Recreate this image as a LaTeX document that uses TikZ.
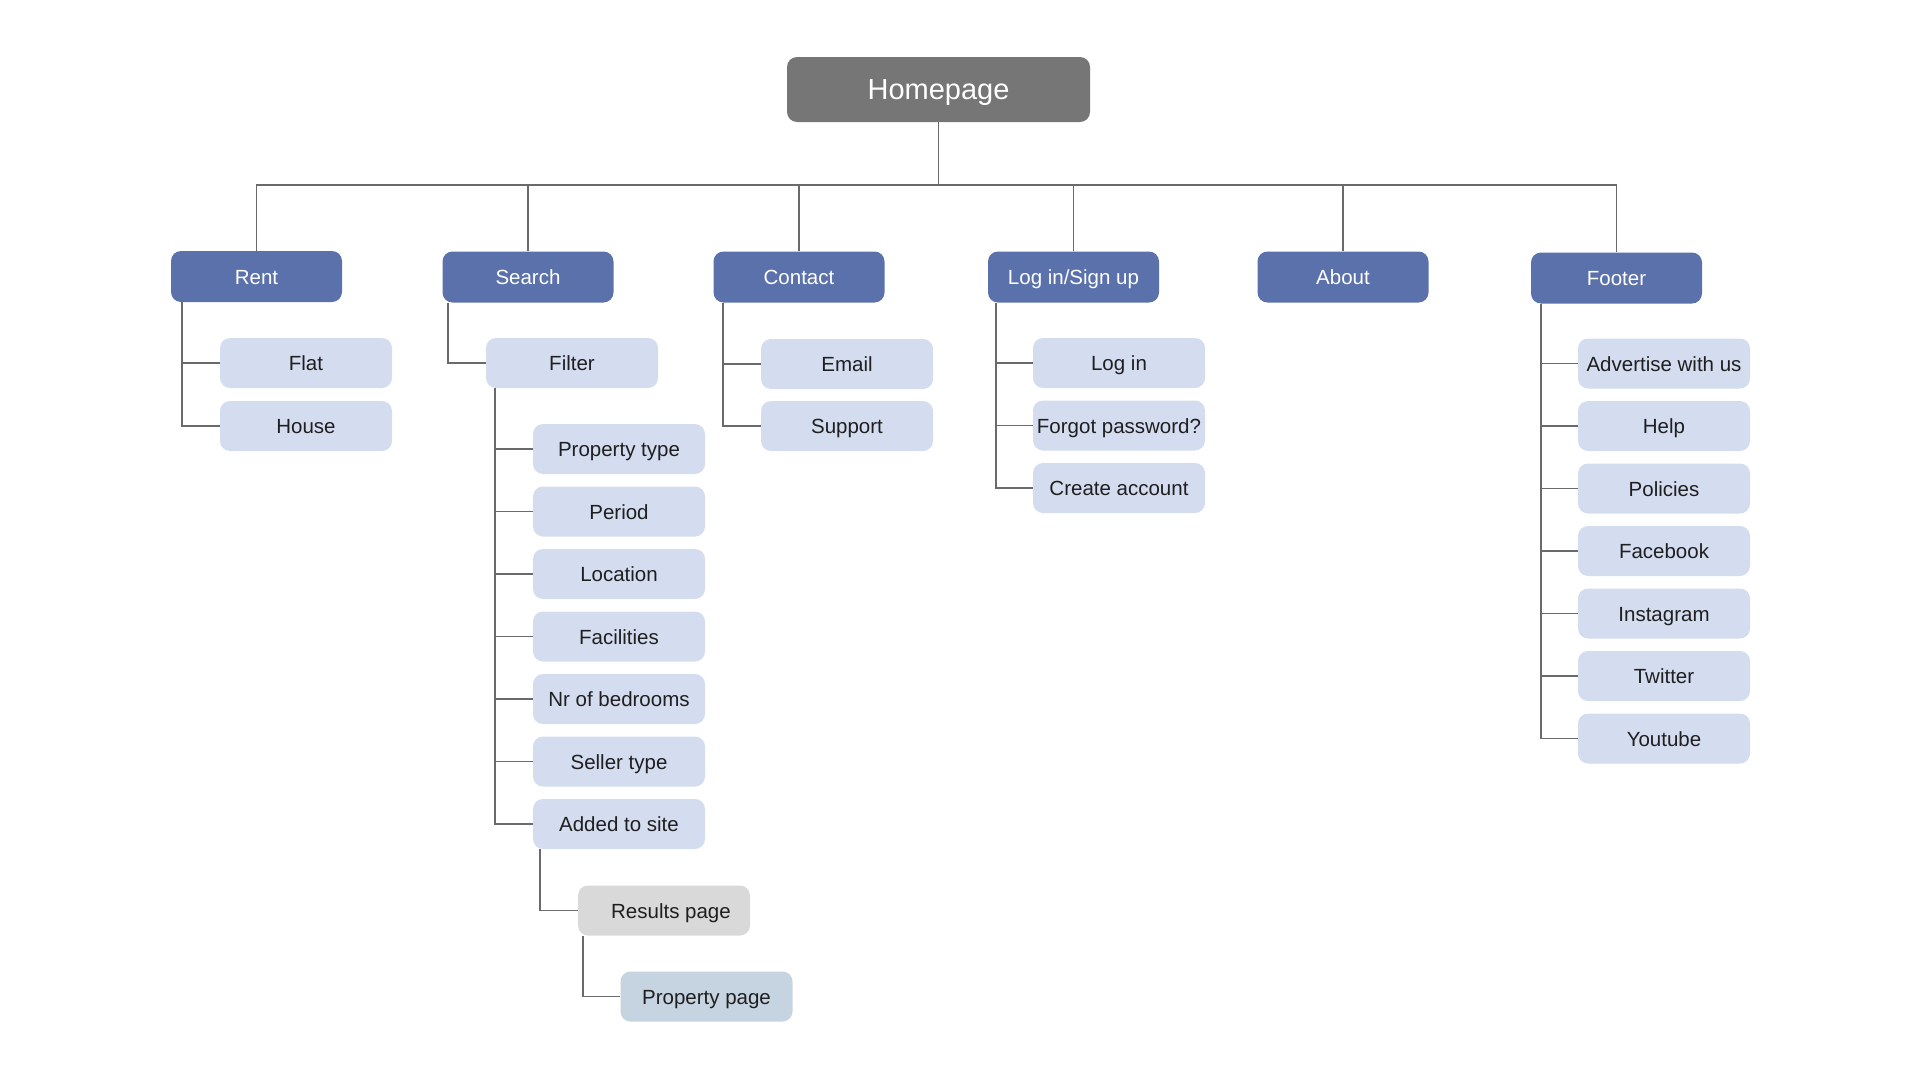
\documentclass[tikz,border=0pt]{standalone}
\usepackage{fontspec}
\setmainfont{Liberation Sans}
\definecolor{homegray}{HTML}{767676}
\definecolor{secblue}{HTML}{5B71AB}
\definecolor{itemblue}{HTML}{D4DCF0}
\definecolor{resultgray}{HTML}{D9D9D9}
\definecolor{propblue}{HTML}{C6D3E0}
\definecolor{linegray}{HTML}{6A6A6A}

\begin{document}
\begin{tikzpicture}[x=1pt, y=-1pt,
  box/.style={rounded corners=10pt, inner sep=1pt, minimum width=172pt, minimum height=50pt, text height=20pt, text depth=4.5pt, font=\fontsize{20.5}{24}\selectfont},
  homebox/.style={box, fill=homegray, text=white, minimum width=303pt, minimum height=65pt, text height=26pt, text depth=6pt, font=\fontsize{29}{33}\selectfont},
  secbox/.style={box, fill=secblue, text=white, minimum width=171pt, minimum height=51pt, font=\fontsize{20.5}{24}\selectfont},
  itembox/.style={box, fill=itemblue, text=black!88},
  link/.style={draw=linegray, line width=1.7pt}]
\useasboundingbox (0,0) rectangle (1920,1084);

% Top of the site map
\node[homebox] (home) at (938.5,89.5) {Homepage};
\coordinate (hub) at (938.5,185);

% Main sections
\node[secbox] (rent) at (256.5,276.5) {Rent};
\node[secbox] (search) at (528,277) {Search};
\node[secbox] (contact) at (799,277) {Contact};
\node[secbox] (login) at (1073.5,277) {Log in/Sign up};
\node[secbox] (about) at (1343,277) {About};
\node[secbox] (footer) at (1616.5,278) {Footer};

\draw[link] (home.south) -- (hub);
\draw[link] (rent.north) |- (hub) -| (footer.north);
\draw[link] (search.north) -- (search.north |- hub);
\draw[link] (contact.north) -- (contact.north |- hub);
\draw[link] (login.north) -- (login.north |- hub);
\draw[link] (about.north) -- (about.north |- hub);

% Rent
\node[itembox] (flat) at (306,363) {Flat};
\node[itembox] (house) at (306,426) {House};
\draw[link] ([xshift=11pt]rent.south west) |- (flat.west);
\draw[link] ([xshift=11pt]rent.south west) |- (house.west);

% Search and its filters
\node[itembox] (filter) at (572,363) {Filter};
\draw[link] ([xshift=6pt]search.south west) |- (filter.west);

\node[itembox] (ptype) at (619,449) {Property type};
\node[itembox] (period) at (619,511.5) {Period};
\node[itembox] (location) at (619,574) {Location};
\node[itembox] (facilities) at (619,636.5) {Facilities};
\node[itembox] (bedrooms) at (619,699) {Nr of bedrooms};
\node[itembox] (seller) at (619,761.5) {Seller type};
\node[itembox] (added) at (619,824) {Added to site};
\foreach \f in {ptype,period,location,facilities,bedrooms,seller,added}
  \draw[link] ([xshift=9pt]filter.south west) |- (\f.west);

\node[box, fill=resultgray, text=black!88] (results) at (664,910.5) {\hspace*{14pt}Results page};
\node[box, fill=propblue, text=black!88] (property) at (706.5,996.5) {Property page};
\draw[link] ([xshift=7pt]added.south west) |- (results.west);
\draw[link] ([xshift=5pt]results.south west) |- (property.west);

% Contact
\node[itembox] (email) at (847,364) {Email};
\node[itembox] (support) at (847,426) {Support};
\draw[link] ([xshift=10pt]contact.south west) |- (email.west);
\draw[link] ([xshift=10pt]contact.south west) |- (support.west);

% Log in / Sign up
\node[itembox] (logon) at (1119,363) {Log in};
\node[itembox] (forgot) at (1119,425.5) {Forgot password?};
\node[itembox] (create) at (1119,488) {Create account};
\foreach \f in {logon,forgot,create}
  \draw[link] ([xshift=8pt]login.south west) |- (\f.west);

% Footer
\node[itembox] (advertise) at (1664,363.5) {Advertise with us};
\node[itembox] (help) at (1664,426) {Help};
\node[itembox] (policies) at (1664,488.5) {Policies};
\node[itembox] (facebook) at (1664,551) {Facebook};
\node[itembox] (instagram) at (1664,613.5) {Instagram};
\node[itembox] (twitter) at (1664,676) {Twitter};
\node[itembox] (youtube) at (1664,738.5) {Youtube};
\foreach \f in {advertise,help,policies,facebook,instagram,twitter,youtube}
  \draw[link] ([xshift=10pt]footer.south west) |- (\f.west);
\end{tikzpicture}
\end{document}
